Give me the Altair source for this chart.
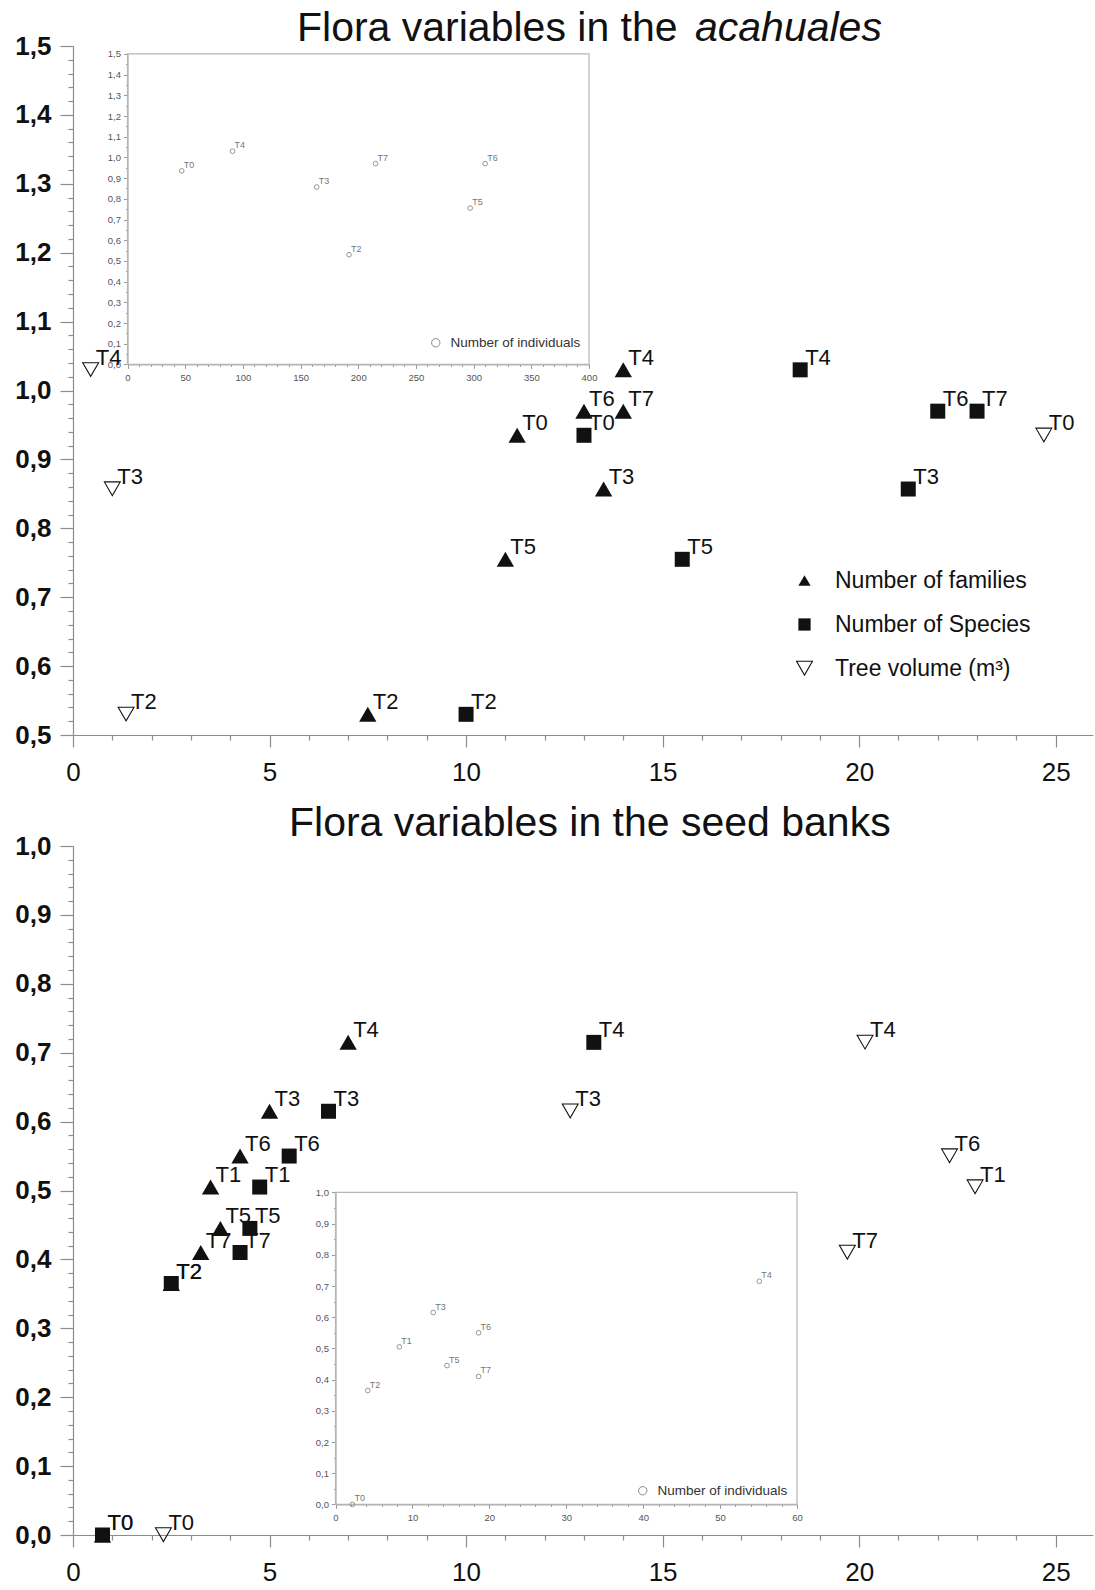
import altair as alt
import pandas as pd

FONT = "Liberation Sans"
SERIES = ["Number of families", "Number of Species", "Tree volume (m³)"]
IND = "Number of individuals"

# ---------------- Top panel: acahuales ----------------
top_fam_lab = ["T4", "T6", "T7", "T0", "T3", "T5", "T2"]
top_fam_x = [14.0, 13.0, 14.0, 11.3, 13.5, 11.0, 7.5]
top_fam_y = [1.03, 0.97, 0.97, 0.935, 0.857, 0.755, 0.53]

top_spp_lab = ["T4", "T6", "T7", "T0", "T3", "T5", "T2"]
top_spp_x = [18.5, 22.0, 23.0, 13.0, 21.25, 15.5, 10.0]
top_spp_y = [1.03, 0.97, 0.97, 0.935, 0.857, 0.755, 0.53]

top_vol_lab = ["T4", "T3", "T2", "T0"]
top_vol_x = [0.45, 1.0, 1.35, 24.7]
top_vol_y = [1.03, 0.857, 0.53, 0.935]

top_ind_lab = ["T0", "T4", "T3", "T7", "T6", "T5", "T2"]
top_ind_x = [47, 91, 164, 215, 310, 297, 192]
top_ind_y = [0.935, 1.03, 0.857, 0.97, 0.97, 0.755, 0.53]

# ---------------- Bottom panel: seed banks ----------------
bot_fam_lab = ["T4", "T3", "T6", "T1", "T5", "T7", "T2", "T0"]
bot_fam_x = [7.0, 5.0, 4.25, 3.5, 3.75, 3.25, 2.5, 0.75]
bot_fam_y = [0.715, 0.615, 0.55, 0.505, 0.445, 0.41, 0.365, 0.0]

bot_spp_lab = ["T4", "T3", "T6", "T1", "T5", "T7", "T2", "T0"]
bot_spp_x = [13.25, 6.5, 5.5, 4.75, 4.5, 4.25, 2.5, 0.75]
bot_spp_y = [0.715, 0.615, 0.55, 0.505, 0.445, 0.41, 0.365, 0.0]

bot_vol_lab = ["T4", "T3", "T6", "T1", "T7", "T0"]
bot_vol_x = [20.15, 12.65, 22.3, 22.95, 19.7, 2.3]
bot_vol_y = [0.715, 0.615, 0.55, 0.505, 0.41, 0.0]

bot_ind_lab = ["T0", "T2", "T1", "T3", "T6", "T5", "T7", "T4"]
bot_ind_x = [2.2, 4.2, 8.3, 12.7, 18.6, 14.5, 18.6, 55.1]
bot_ind_y = [0.0, 0.365, 0.505, 0.615, 0.55, 0.445, 0.41, 0.715]

# axis tick values
main_x_ticks = list(range(0, 26))
top_y_ticks = [round(0.5 + 0.02 * i, 2) for i in range(51)]
bot_y_ticks = [round(0.02 * i, 2) for i in range(51)]
top_ins_x_ticks = list(range(0, 401, 10))
top_ins_y_ticks = [round(0.05 * i, 2) for i in range(31)]
bot_ins_x_ticks = list(range(0, 61, 2))
bot_ins_y_ticks = [round(0.05 * i, 2) for i in range(21)]

X_MAX = 25.95
PLOT_W = 1020
PLOT_H = 689
AX_COL = "#8c8c8c"

# open (hollow) downward triangle as a custom symbol path
OPEN_TRI_DOWN = "M-1.45,-1.256L1.45,-1.256L0,1.256ZM-1.15,-1.085L0,0.9L1.15,-1.085Z"
SHAPES = ["triangle-up", "square", OPEN_TRI_DOWN]

Y_MAJOR = "abs(datum.value*10 - round(datum.value*10)) < 0.0001"
Y_LABEL = "(" + Y_MAJOR + ") ? replace(format(datum.value, '.1f'), '.', ',') : ''"


def main_df(fl, fx, fy, sl, sx, sy, vl, vx, vy):
    rows = []
    for labs, xs, ys, s in ((fl, fx, fy, SERIES[0]), (sl, sx, sy, SERIES[1]), (vl, vx, vy, SERIES[2])):
        for lab, x, y in zip(labs, xs, ys):
            rows.append({"x": x, "y": y, "lab": lab, "series": s})
    return pd.DataFrame(rows)


def ind_df(labs, xs, ys):
    return pd.DataFrame({"x": xs, "y": ys, "lab": labs, "series": [IND] * len(labs)})


def title_mark(text, x, y, italic=False):
    return alt.Chart(pd.DataFrame({"t": [text]})).mark_text(
        align="left", baseline="alphabetic", font=FONT, fontSize=41,
        fontStyle="italic" if italic else "normal", color="#111"
    ).encode(x=alt.value(x), y=alt.value(y), text="t:N")


def panel(df, idf, ydom, yticks, ins_xdom, ins_ydom, ins_xr, ins_yr, ins_xticks, ins_xmajor,
          ins_yticks, titles, legend_main, legend_ind):
    xs = alt.Scale(domain=[0, X_MAX], nice=False, zero=False)
    ys = alt.Scale(domain=ydom, nice=False, zero=False)
    xaxis = alt.Axis(values=main_x_ticks, orient="bottom", title=None, grid=False,
                     domainColor=AX_COL, tickColor=AX_COL, domainWidth=1.2, tickWidth=1.2,
                     tickSize={"condition": {"test": "datum.value % 5 === 0", "value": 12}, "value": 5},
                     labelExpr="datum.value % 5 === 0 ? datum.label : ''",
                     labelFont=FONT, labelFontSize=26, labelColor="#111", labelPadding=12,
                     labelFlush=False, labelOverlap=False)
    yaxis = alt.Axis(values=yticks, orient="left", title=None, grid=False,
                     domainColor=AX_COL, tickColor=AX_COL, domainWidth=1.2, tickWidth=1.2,
                     tickSize={"condition": {"test": Y_MAJOR, "value": 13}, "value": 5},
                     labelExpr=Y_LABEL, labelFont=FONT, labelFontSize=26, labelFontWeight="bold",
                     labelColor="#111", labelPadding=9, labelFlush=False, labelOverlap=False)

    pts = alt.Chart(df).mark_point(filled=True, opacity=1, color="#111", strokeWidth=0).encode(
        x=alt.X("x:Q", scale=xs, axis=xaxis),
        y=alt.Y("y:Q", scale=ys, axis=yaxis),
        shape=alt.Shape("series:N", scale=alt.Scale(domain=SERIES, range=SHAPES), legend=legend_main),
        size=alt.Size("series:N", scale=alt.Scale(domain=SERIES, range=[300, 150, 300]), legend=None),
    )
    txt = alt.Chart(df).mark_text(align="left", baseline="alphabetic", dx=5, dy=-5,
                                  font=FONT, fontSize=22, color="#111").encode(
        x=alt.X("x:Q", scale=xs, axis=xaxis),
        y=alt.Y("y:Q", scale=ys, axis=yaxis),
        text="lab:N",
    )
    main = alt.layer(pts, txt, *titles)

    ixs = alt.Scale(domain=ins_xdom, range=ins_xr, nice=False, zero=False)
    iys = alt.Scale(domain=ins_ydom, range=ins_yr, nice=False, zero=False)
    ixaxis = alt.Axis(values=ins_xticks, orient="bottom", offset=-(PLOT_H - ins_yr[0]), title=None, grid=False,
                      domainColor="#999999", tickColor="#999999",
                      tickSize={"condition": {"test": "datum.value %% %d === 0" % ins_xmajor, "value": 4}, "value": 2},
                      labelExpr="datum.value %% %d === 0 ? datum.label : ''" % ins_xmajor,
                      labelFont=FONT, labelFontSize=9.5, labelColor="#555555", labelPadding=4,
                      labelFlush=False, labelOverlap=False)
    iyaxis = alt.Axis(values=ins_yticks, orient="left", offset=-ins_xr[0], title=None, grid=False,
                      domainColor="#999999", tickColor="#999999",
                      tickSize={"condition": {"test": Y_MAJOR, "value": 4}, "value": 2},
                      labelExpr=Y_LABEL, labelFont=FONT, labelFontSize=9.5, labelColor="#555555",
                      labelPadding=3, labelFlush=False, labelOverlap=False)
    fdf = pd.DataFrame({"x0": [ins_xdom[0]], "x1": [ins_xdom[1]], "y0": [ins_ydom[0]], "y1": [ins_ydom[1]]})
    frame = alt.Chart(fdf).mark_rect(fillOpacity=0, stroke="#b5b5b5", strokeWidth=1.2).encode(
        x=alt.X("x0:Q", scale=ixs, axis=ixaxis), x2="x1:Q",
        y=alt.Y("y0:Q", scale=iys, axis=iyaxis), y2="y1:Q",
    )
    ipts = alt.Chart(idf).mark_point(size=22, strokeWidth=0.9, color="#8a8a8a", opacity=1).encode(
        x=alt.X("x:Q", scale=ixs, axis=ixaxis),
        y=alt.Y("y:Q", scale=iys, axis=iyaxis),
        shape=alt.Shape("series:N", scale=alt.Scale(domain=[IND], range=["circle"]), legend=legend_ind),
    )
    itxt = alt.Chart(idf).mark_text(align="left", baseline="alphabetic", dx=2, dy=-3,
                                    font=FONT, fontSize=9, color="#777777").encode(
        x=alt.X("x:Q", scale=ixs, axis=ixaxis),
        y=alt.Y("y:Q", scale=iys, axis=iyaxis),
        text="lab:N",
    )
    inset = alt.layer(frame, ipts, itxt)

    return alt.layer(main, inset).resolve_scale(
        x="independent", y="independent", shape="independent"
    ).resolve_axis(x="independent", y="independent").resolve_legend(shape="independent").properties(
        width=PLOT_W, height=PLOT_H
    )


legend_top = alt.Legend(title=None, orient="none", legendX=720, legendY=523, labelFont=FONT,
                        labelFontSize=23, labelColor="#111", symbolSize=150, rowPadding=20,
                        labelOffset=19, labelLimit=500, padding=0, symbolStrokeWidth=0,
                        symbolFillColor="#111")


def ind_legend(lx, ly):
    return alt.Legend(title=None, orient="none", legendX=lx, legendY=ly, labelFont=FONT,
                      labelFontSize=13.5, labelColor="#333333", symbolSize=70, symbolStrokeColor="#888888",
                      symbolFillColor="#ffffff", symbolStrokeWidth=1, labelOffset=8, labelLimit=400, padding=0)


top = panel(
    main_df(top_fam_lab, top_fam_x, top_fam_y, top_spp_lab, top_spp_x, top_spp_y, top_vol_lab, top_vol_x, top_vol_y),
    ind_df(top_ind_lab, top_ind_x, top_ind_y),
    [0.5, 1.5], top_y_ticks, [0, 400], [0, 1.5], [54.5, 516], [318.4, 7.9],
    top_ins_x_ticks, 50, top_ins_y_ticks,
    [title_mark("Flora variables in the", 224, -5), title_mark("acahuales", 622, -5, italic=True)],
    legend_top, ind_legend(356, 290),
)
bot = panel(
    main_df(bot_fam_lab, bot_fam_x, bot_fam_y, bot_spp_lab, bot_spp_x, bot_spp_y, bot_vol_lab, bot_vol_x, bot_vol_y),
    ind_df(bot_ind_lab, bot_ind_x, bot_ind_y),
    [0.0, 1.0], bot_y_ticks, [0, 60], [0, 1.0], [262.5, 724], [658.4, 346.4],
    bot_ins_x_ticks, 10, bot_ins_y_ticks,
    [title_mark("Flora variables in the seed banks", 216, -10)],
    None, ind_legend(563, 638),
)

chart = alt.vconcat(top, bot, spacing=18).configure_view(stroke=None).properties(
    padding={"left": 14, "top": 8, "right": 2, "bottom": 2}, background="white"
)

chart.save("out.html", embed_options={"renderer": "svg", "actions": False})
